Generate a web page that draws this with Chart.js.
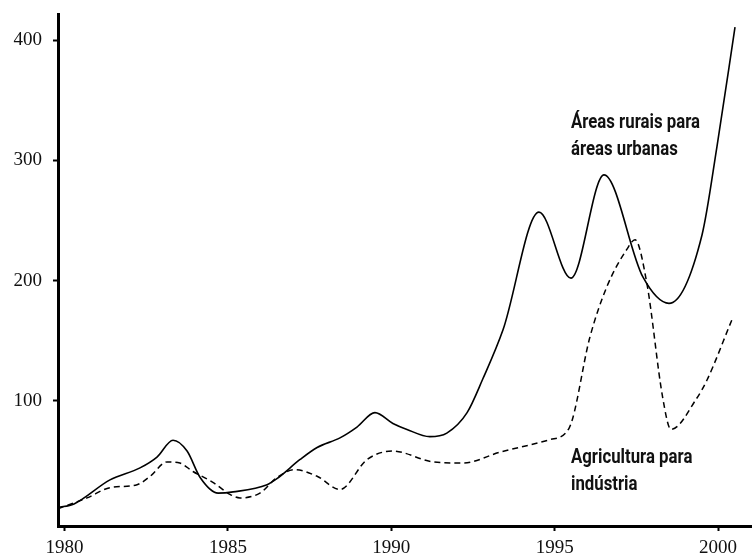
<!DOCTYPE html>
<html>
<head>
<meta charset="utf-8">
<script src="https://cdn.jsdelivr.net/npm/chart.js@4.4.1/dist/chart.umd.min.js"></script>
<style>
  html, body { margin: 0; padding: 0; background: #fff; }
  #wrap { width: 752px; height: 556px; position: relative; }
</style>
</head>
<body>
<div id="wrap"><canvas id="chart"></canvas></div>
<script>
// Áreas rurais para áreas urbanas (linha contínua)
const urbanYears = [1979.8, 1980.29, 1981.39, 1982.31, 1982.83, 1983.32, 1983.75, 1984.15, 1984.7, 1985.16,
  1986.2, 1986.5, 1987.21, 1987.73, 1988.43, 1988.95, 1989.5, 1990.05, 1990.48, 1991.18,
  1991.7, 1992.32, 1992.8, 1993.42, 1994.52, 1995.5, 1996.51, 1997.7, 1998.5, 1999.51, 1999.97, 2000.52];
const urbanValues = [11, 14, 34, 44, 53, 67, 58, 36, 23, 24,
  30, 35, 51, 61, 69, 78, 90, 81, 76, 70,
  73, 90, 118, 159, 257, 202, 288, 203, 181, 238, 312, 411];

// Agricultura para indústria (linha tracejada)
const industryYears = [1979.8, 1980.69, 1981.39, 1982.22, 1982.62, 1983.14, 1983.53, 1983.93, 1984.54, 1985.06,
  1985.37, 1985.98, 1986.5, 1987.05, 1987.73, 1988.43, 1989.26, 1990.05, 1991.27, 1992.19,
  1993.32, 1994.85, 1995.44, 1996.08, 1996.6, 1997.21, 1997.46, 1997.82, 1998.31, 1998.56,
  1999.35, 1999.66, 2000.42];
const industryValues = [10, 19, 27.5, 30, 37, 49, 48, 41, 32, 22,
  19, 23, 36, 42.5, 37, 26, 51, 58, 49, 48,
  57, 67.5, 77, 153, 195, 226, 234, 198, 102, 76,
  102, 117, 167];

const xTicks = [1980, 1985, 1990, 1995, 2000];
const yTicks = [100, 200, 300, 400];

const labelUrban = ["Áreas rurais para", "áreas urbanas"];
const labelIndustry = ["Agricultura para", "indústria"];

const numFont = { family: "'Liberation Serif', 'DejaVu Serif', serif", size: 19 };
const noteFont = "bold 20px Roboto, 'Liberation Sans', sans-serif";

function toPoints(xs, ys) {
  return xs.map((x, i) => ({ x: x, y: ys[i] }));
}

// texto condensado: encolhe na horizontal até a largura pedida
function drawNarrow(ctx, text, x, y, width) {
  const w = ctx.measureText(text).width;
  ctx.save();
  ctx.translate(x, y);
  ctx.scale(width / w, 1);
  ctx.fillText(text, 0, 0);
  ctx.restore();
}

// Rótulos das séries escritos dentro do gráfico
const notesPlugin = {
  id: "notes",
  afterDatasetsDraw(chart) {
    const ctx = chart.ctx;
    const xs = chart.scales.x;
    const ys = chart.scales.y;
    ctx.save();
    ctx.font = noteFont;
    ctx.fillStyle = "#111";
    ctx.textBaseline = "middle";
    ctx.textAlign = "left";
    const ux = xs.getPixelForValue(1995.5);
    const ratio = 129 / ctx.measureText(labelUrban[0]).width;
    labelUrban.forEach((t, i) =>
      drawNarrow(ctx, t, ux, ys.getPixelForValue(331) + i * 27, ctx.measureText(t).width * ratio));
    labelIndustry.forEach((t, i) =>
      drawNarrow(ctx, t, ux, ys.getPixelForValue(52) + i * 27, ctx.measureText(t).width * ratio));
    ctx.restore();
  },
};

new Chart(document.getElementById("chart"), {
  type: "line",
  data: {
    datasets: [
      {
        label: labelUrban.join(" "),
        data: toPoints(urbanYears, urbanValues),
        borderColor: "#000",
        borderWidth: 1.6,
        pointRadius: 0,
        cubicInterpolationMode: "monotone",
        fill: false,
      },
      {
        label: labelIndustry.join(" "),
        data: toPoints(industryYears, industryValues),
        borderColor: "#000",
        borderWidth: 1.5,
        borderDash: [6, 4],
        pointRadius: 0,
        cubicInterpolationMode: "monotone",
        fill: false,
      },
    ],
  },
  options: {
    responsive: true,
    maintainAspectRatio: false,
    animation: false,
    layout: { padding: { top: 14, right: 0, left: 0, bottom: 0 } },
    plugins: { legend: { display: false }, tooltip: { enabled: false } },
    scales: {
      x: {
        type: "linear",
        min: 1979.8,
        max: 2001.04,
        afterBuildTicks: (scale) => {
          scale.ticks = xTicks.map((v) => ({ value: v }));
        },
        afterFit: (scale) => {
          scale.height = 30;
          scale.paddingLeft = 0;
          scale.paddingRight = 0;
        },
        border: { display: true, color: "#000", width: 3 },
        grid: { drawOnChartArea: false, drawTicks: true, tickLength: 5, tickWidth: 2, tickColor: "#000" },
        ticks: { color: "#111", font: numFont, padding: 6, maxRotation: 0, callback: (v) => String(v) },
      },
      y: {
        min: -4.4,
        max: 422,
        afterBuildTicks: (scale) => {
          scale.ticks = yTicks.map((v) => ({ value: v }));
        },
        afterFit: (scale) => {
          scale.width = 58;
          scale.paddingTop = 0;
          scale.paddingBottom = 0;
        },
        border: { display: true, color: "#000", width: 3 },
        grid: { drawOnChartArea: false, drawTicks: true, tickLength: 5, tickWidth: 2, tickColor: "#000" },
        ticks: { color: "#111", font: numFont, padding: 11, callback: (v) => String(v) },
      },
    },
  },
  plugins: [notesPlugin],
});
</script>
</body>
</html>
